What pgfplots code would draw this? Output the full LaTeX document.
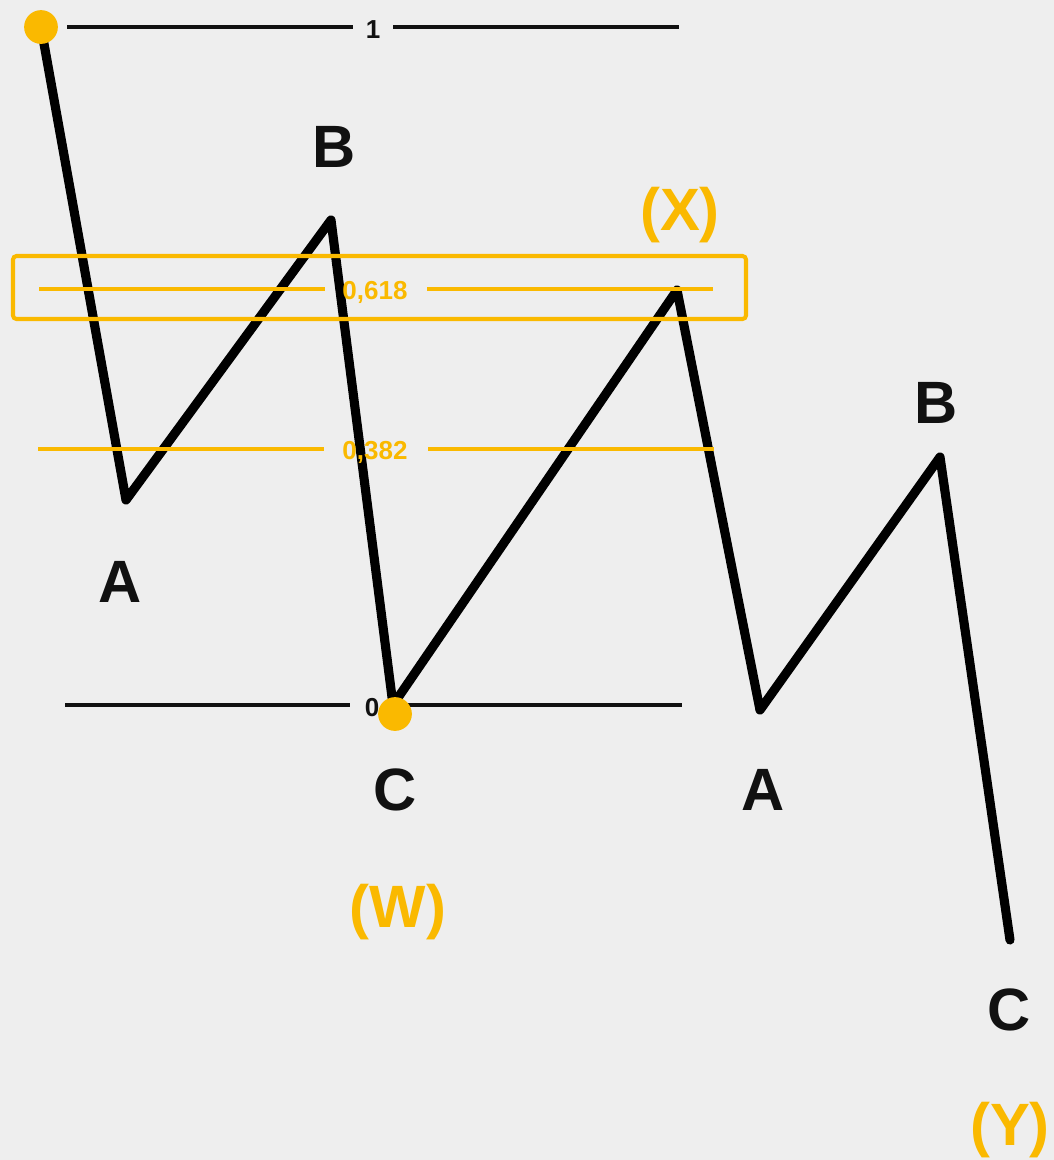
\documentclass[border=0pt]{standalone}
\usepackage{pgfplots}
\pgfplotsset{compat=1.18}
\usepackage{fontspec}
\setmainfont{Liberation Sans}
\definecolor{bg}{HTML}{EEEEEE}
\definecolor{gold}{HTML}{FAB900}
\definecolor{ink}{HTML}{111111}
\newcommand\lbl{\bfseries\fontsize{17}{20}\selectfont}
\newcommand\num{\bfseries\fontsize{7.4}{9}\selectfont}
\begin{document}
\begin{tikzpicture}
\begin{axis}[name=ax, at={(0,0)}, anchor=south west,
  width=10.54cm, height=11.6cm, scale only axis,
  xmin=0, xmax=1054, ymin=0, ymax=1160, y dir=reverse,
  axis lines=none, xtick=\empty, ytick=\empty, clip=false]
\fill[bg] (axis cs:0,0) rectangle (axis cs:1054,1160);
% black level lines
\addplot[ink, line width=1.15pt, forget plot] coordinates {(67,27) (353,27)};
\addplot[ink, line width=1.15pt, forget plot] coordinates {(393,27) (679,27)};
\addplot[ink, line width=1.15pt, forget plot] coordinates {(65,705) (350,705)};
\addplot[ink, line width=1.15pt, forget plot] coordinates {(392,705) (682,705)};
% zigzag
\addplot[black, line width=2.6pt, line join=round, line cap=round] coordinates {
 (41,27) (126,500) (331,220) (393,705) (677,290) (760,710) (940,457) (1010,940)};
% gold fib lines
\addplot[gold, line width=1.15pt] coordinates {(39,289) (325,289)};
\addplot[gold, line width=1.15pt] coordinates {(427,289) (713,289)};
\addplot[gold, line width=1.15pt] coordinates {(38,449) (324,449)};
\addplot[gold, line width=1.15pt] coordinates {(428,449) (714,449)};
\draw[gold, line width=1.15pt, rounded corners=1pt] (axis cs:13,256) rectangle (axis cs:746,319);
% dots
\addplot[only marks, mark=*, mark size=4.6pt, gold, mark options={draw=gold, fill=gold}] coordinates {(41,27) (395,714)};
% numeric labels
\node[ink] at (axis cs:373,30) {\num 1};
\node[ink] at (axis cs:372,708) {\num 0};
\node[gold] at (axis cs:375,292) {\num 0,618};
\node[gold] at (axis cs:375,452) {\num 0,382};
% wave labels
\node[ink] at (axis cs:334,147) {\lbl B};
\node[ink] at (axis cs:120,582) {\lbl A};
\node[ink] at (axis cs:395,790) {\lbl C};
\node[ink] at (axis cs:936,403) {\lbl B};
\node[ink] at (axis cs:763,790) {\lbl A};
\node[ink] at (axis cs:1009,1010) {\lbl C};
\node[gold] at (axis cs:398,912) {\lbl (W)};
\node[gold] at (axis cs:680,215) {\lbl (X)};
\node[gold] at (axis cs:1010,1130) {\lbl (Y)};
\end{axis}
\pgfresetboundingbox
\path (ax.south west) rectangle (ax.north east);
\end{tikzpicture}
\end{document}
